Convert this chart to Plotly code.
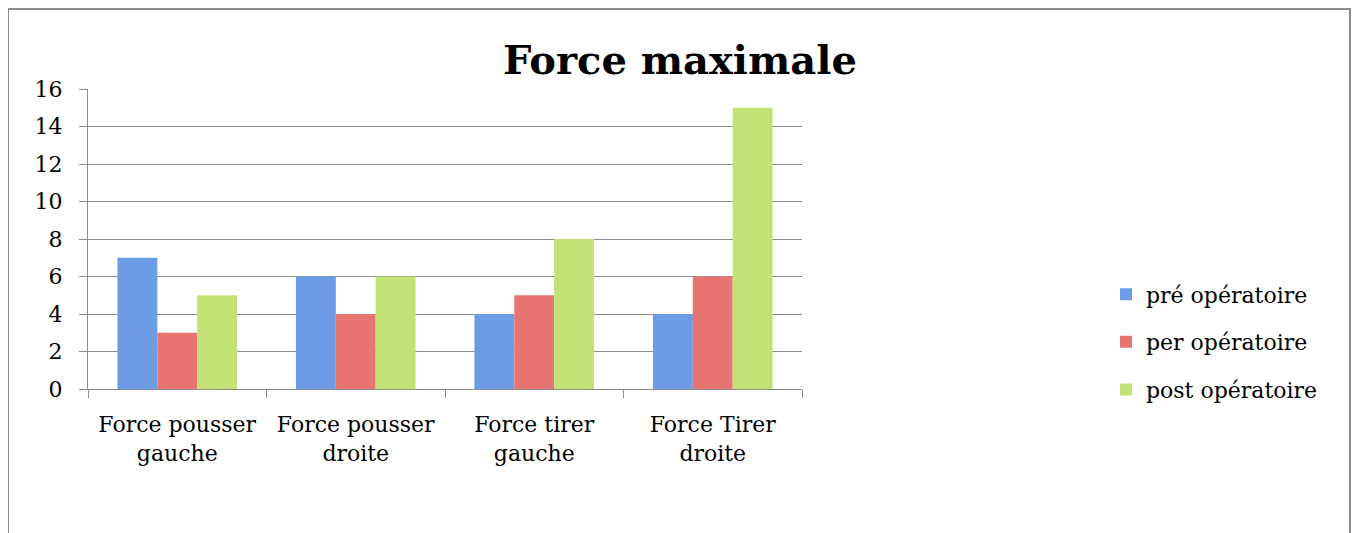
import plotly.graph_objects as go

categories = ["Force pousser<br>gauche", "Force pousser<br>droite", "Force tirer<br>gauche", "Force Tirer<br>droite"]
series_names = ["pré opératoire", "per opératoire", "post opératoire"]
pre_values = [7, 6, 4, 4]
per_values = [3, 4, 5, 6]
post_values = [5, 6, 8, 15]
y_ticks = [0, 2, 4, 6, 8, 10, 12, 14, 16]

colors = ["#6d9ce6", "#e87472", "#c2e276"]
FONT = "DejaVu Serif"
GRID = "#8c8c8c"

# page body adds an 8px offset; layout numbers below are in figure coordinates
fig = go.Figure()
for name, vals, col in zip(series_names, [pre_values, per_values, post_values], colors):
    fig.add_trace(go.Bar(x=categories, y=vals, name=name, legendgroup=name,
                         marker=dict(color=col, line=dict(width=0))))

fig.update_layout(
    width=1360, height=533,
    margin=dict(l=80, r=566, t=81, b=152),
    paper_bgcolor="white", plot_bgcolor="white",
    barmode="group", bargap=0.33, bargroupgap=0,
    font=dict(family=FONT, size=22, color="black"),
    title=dict(text="<b>Force maximale</b>", x=672 / 1360, xref="container", xanchor="center",
               y=1 - 52 / 533, yref="container", yanchor="middle",
               font=dict(family=FONT, size=40, color="black")),
    legend=dict(x=(1098 - 80) / 714, xanchor="left", y=0.157, yanchor="middle",
                traceorder="grouped", tracegroupgap=16,
                font=dict(family=FONT, size=22, color="black"),
                bgcolor="rgba(0,0,0,0)"),
    showlegend=True,
    shapes=[dict(type="rect", xref="paper", yref="paper",
                 x0=(0 - 80) / 714, x1=(1342 - 80) / 714,
                 y0=-0.6, y1=(381 - 1) / 300,
                 line=dict(color="#8c8c8c", width=2), fillcolor="rgba(0,0,0,0)", layer="below")],
)
fig.update_yaxes(range=[0, 16], tickvals=y_ticks, showgrid=True, gridcolor=GRID, gridwidth=1,
                 showline=True, linecolor=GRID, linewidth=1, ticks="outside", ticklen=8,
                 tickcolor=GRID, zeroline=False, ticklabelstandoff=12,
                 tickfont=dict(family=FONT, size=22, color="black"))
fig.update_xaxes(showline=True, linecolor=GRID, linewidth=1, ticks="outside", ticklen=8,
                 tickcolor=GRID, tickson="boundaries", showgrid=False, ticklabelstandoff=16,
                 tickfont=dict(family=FONT, size=22, color="black"))

fig.write_html("out.html")
